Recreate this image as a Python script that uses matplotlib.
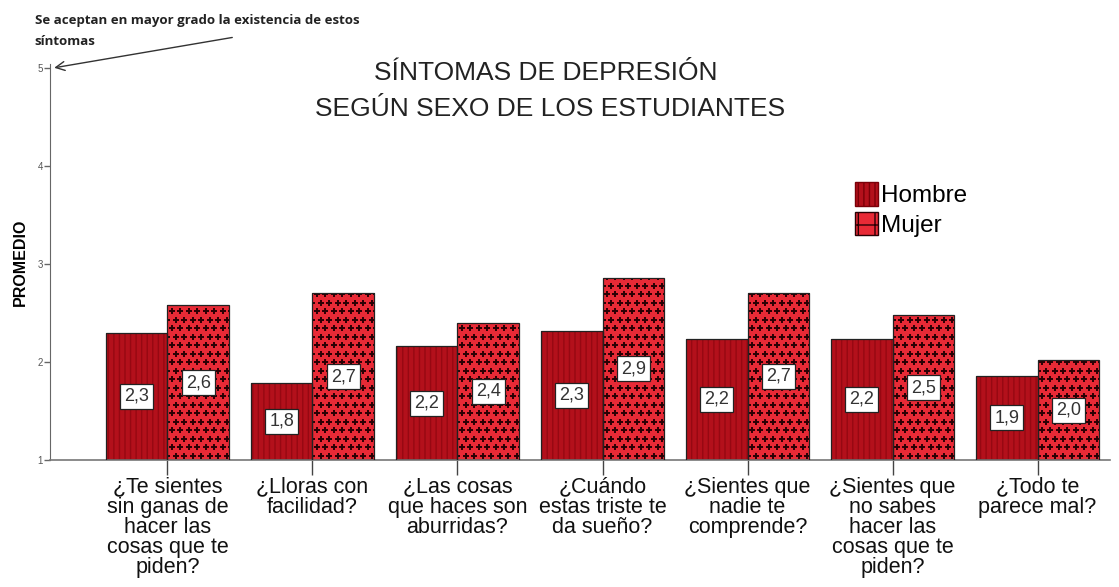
import numpy as np
import matplotlib
matplotlib.use('Agg')
from matplotlib import pyplot as plt
from matplotlib.patches import Patch

plt.rcParams['font.family'] = ['Liberation Sans', 'DejaVu Sans']

# promedios por pregunta y sexo
preguntas = ['¿Te sientes\nsin ganas de\nhacer las\ncosas que te\npiden?',
             '¿Lloras con\nfacilidad?',
             '¿Las cosas\nque haces son\naburridas?',
             '¿Cuándo\nestas triste te\nda sueño?',
             '¿Sientes que\nnadie te\ncomprende?',
             '¿Sientes que\nno sabes\nhacer las\ncosas que te\npiden?',
             '¿Todo te\nparece mal?']
hombre = [2.30, 1.79, 2.16, 2.32, 2.24, 2.24, 1.86]
mujer = [2.58, 2.70, 2.40, 2.86, 2.71, 2.48, 2.02]
yticks = [1, 2, 3, 4, 5]

c_hombre = '#b3101b'
c_mujer = '#e82a36'

fig = plt.figure(figsize=(11.19, 5.87), dpi=100)
ax = fig.add_axes([0.0447, 0.2164, 0.9473, 0.674])

x = np.arange(len(preguntas))
w = 0.425
base = 1.0

ax.set_xlim(-0.81, 6.5)
ax.set_ylim(1, 5.04)

plt.rcParams['hatch.linewidth'] = 1.0
# Hombre: relleno con rayado fino
ax.bar(x - w / 2, np.array(hombre) - base, w, bottom=base, color=c_hombre,
       edgecolor='#960812', hatch='|||', linewidth=0)
# Mujer: relleno liso + cruces en retícula alterna
bars_m = ax.bar(x + w / 2, np.array(mujer) - base, w, bottom=base, color=c_mujer,
                linewidth=0)

inv = ax.transData.inverted()
step = 8.5  # px
for b in bars_m:
    (px0, py0) = ax.transData.transform((b.get_x(), b.get_y()))
    (px1, py1) = ax.transData.transform((b.get_x() + b.get_width(), b.get_y() + b.get_height()))
    pts = []
    row = 0
    yy = py0 + step / 2
    while yy < py1 + step:
        off = (step / 2) if row % 2 else 0
        xx = px0 + off
        while xx < px1 + step:
            pts.append((xx, yy))
            xx += step
        yy += step
        row += 1
    d = inv.transform(np.array(pts))
    sc = ax.scatter(d[:, 0], d[:, 1], marker='+', s=22, linewidths=1.4, color='#2a0004', zorder=2)
    sc.set_clip_path(b)

# contorno negro encima
ax.bar(x - w / 2, np.array(hombre) - base, w, bottom=base, fill=False,
       edgecolor='#222222', linewidth=0.9, zorder=3)
ax.bar(x + w / 2, np.array(mujer) - base, w, bottom=base, fill=False,
       edgecolor='#222222', linewidth=0.9, zorder=3)

box = dict(boxstyle='square,pad=0.22', facecolor='white', edgecolor='#222222', linewidth=0.9)
for xi, h, m in zip(x, hombre, mujer):
    ax.text(xi - w / 2, (base + h) / 2, f'{h:.1f}'.replace('.', ','), ha='center', va='center',
            fontsize=13, color='#333333', bbox=box, zorder=4)
    ax.text(xi + w / 2, (base + m) / 2, f'{m:.1f}'.replace('.', ','), ha='center', va='center',
            fontsize=13, color='#333333', bbox=box, zorder=4)

ax.set_yticks(yticks)
ax.set_yticklabels([str(t) for t in yticks], fontsize=7, color='#555555')
ax.set_xticks(x)
ax.set_xticklabels(preguntas, fontsize=15.5, linespacing=0.95, color='#111111')
ax.tick_params(axis='x', length=11, width=1, color='#444444', pad=1)
ax.tick_params(axis='y', length=4, width=1, color='#666666', pad=1)
for s in ['top', 'right']:
    ax.spines[s].set_visible(False)
ax.spines['left'].set_color('#666666')
ax.spines['bottom'].set_color('#777777')
ax.spines['bottom'].set_linewidth(1.2)

ax.set_ylabel('PROMEDIO', fontsize=11.5, fontweight='bold', labelpad=7)

handles = [Patch(facecolor=c_hombre, edgecolor='#7a0008', hatch='|||'),
           Patch(facecolor=c_mujer, edgecolor='#2a0004', hatch='+')]
ax.legend(handles, ['Hombre', 'Mujer'], loc='upper left', bbox_to_anchor=(0.739, 0.757),
          frameon=False, fontsize=17.5, handlelength=0.95, handleheight=1.1,
          handletextpad=0.1, labelspacing=0.2)

fig.text(0.488, 0.876, 'SÍNTOMAS DE DEPRESIÓN', ha='center', va='center', fontsize=19, color='#222222')
fig.text(0.492, 0.815, 'SEGÚN SEXO DE LOS ESTUDIANTES', ha='center', va='center', fontsize=19, color='#222222')

fig.text(0.031, 0.947, 'Se aceptan en mayor grado la existencia de estos\nsíntomas', ha='left', va='center',
         fontsize=9.5, fontweight='bold', family=['Open Sans', 'DejaVu Sans'], color='#222222',
         linespacing=1.75)
ax.annotate('', xy=(-0.8, 5.0), xycoords='data', xytext=(235 / 1119, 1 - 37 / 587),
            textcoords='figure fraction', annotation_clip=False,
            arrowprops=dict(arrowstyle='->', color='#333333', lw=1.0, mutation_scale=16))

fig.savefig('out.png', dpi=100)
